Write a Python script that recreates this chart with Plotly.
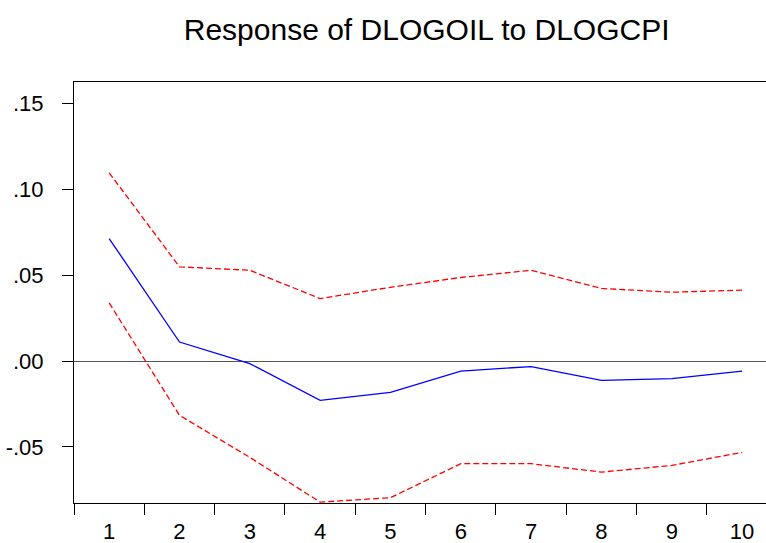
import plotly.graph_objects as go

periods = [1, 2, 3, 4, 5, 6, 7, 8, 9, 10]
response = [0.0714, 0.0111, -0.0015, -0.0229, -0.0182, -0.0058, -0.0032, -0.0112, -0.0102, -0.0059]
upper = [0.1097, 0.0549, 0.0529, 0.0364, 0.0430, 0.0487, 0.0529, 0.0423, 0.0401, 0.0413]
lower = [0.0339, -0.0316, -0.0561, -0.0822, -0.0796, -0.0598, -0.0598, -0.0647, -0.0608, -0.0532]
ytick_vals = [0.15, 0.10, 0.05, 0.00, -0.05]
ytick_text = [".15", ".10", ".05", ".00", "-.05"]
xtick_labels = [str(p) for p in periods]
title = "Response of DLOGOIL to DLOGCPI"

font = "Liberation Sans, Arial, sans-serif"

fig = go.Figure()
fig.add_trace(go.Scatter(x=periods, y=upper, mode="lines",
                         line=dict(color="#ff0000", width=1.3, dash="6px,3px"), hoverinfo="skip"))
fig.add_trace(go.Scatter(x=periods, y=lower, mode="lines",
                         line=dict(color="#ff0000", width=1.3, dash="6px,3px"), hoverinfo="skip"))
fig.add_trace(go.Scatter(x=periods, y=response, mode="lines",
                         line=dict(color="#0000ff", width=1.3)))

xr = [0.5, 10.34]
fig.update_layout(
    width=766, height=543,
    margin=dict(l=74, r=0, t=82, b=40),
    paper_bgcolor="white", plot_bgcolor="white",
    showlegend=False,
    title=dict(text=title, x=0.557, xanchor="center", y=0.945, yanchor="middle",
               font=dict(family=font, size=30, color="black")),
    xaxis=dict(range=xr, tickmode="array",
               tickvals=[p - 0.5 for p in periods] + [10.5],
               ticktext=[""] * 11,
               ticks="outside", ticklen=11, tickwidth=1, tickcolor="black",
               showline=True, linecolor="black", linewidth=1, mirror=True,
               showgrid=False, zeroline=False, fixedrange=True),
    xaxis2=dict(range=xr, overlaying="x", anchor="y", side="bottom",
                tickmode="array", tickvals=periods, ticktext=xtick_labels,
                ticks="outside", ticklen=9, tickcolor="rgba(0,0,0,0)",
                showline=False, showgrid=False, zeroline=False,
                tickfont=dict(family=font, size=22, color="black")),
    yaxis=dict(range=[-0.0827, 0.1626], tickmode="array",
               tickvals=ytick_vals, ticktext=ytick_text,
               ticks="outside", ticklen=11, tickwidth=1, tickcolor="black",
               showline=True, linecolor="black", linewidth=1, mirror=False,
               showgrid=False, zeroline=True, zerolinecolor="#555555", zerolinewidth=1,
               ticklabelstandoff=14,
               tickfont=dict(family=font, size=22, color="black"),
               fixedrange=True),
)
fig.add_trace(go.Scatter(x=[], y=[], xaxis="x2"))

fig.write_html("out.html")
